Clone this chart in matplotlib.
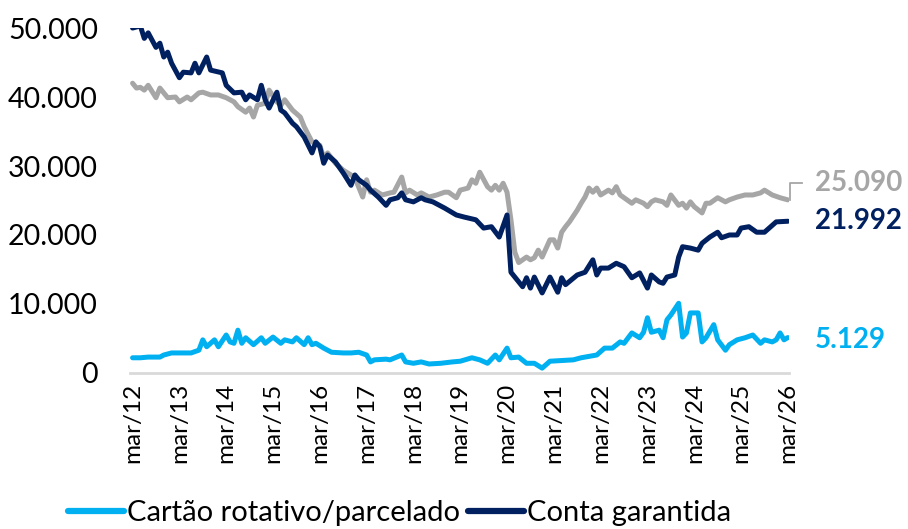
import matplotlib
matplotlib.use("Agg")
import matplotlib.pyplot as plt

# Saldos (R$ milhões); meses contados a partir de mar/12
rotulos_x = ["mar/12", "mar/13", "mar/14", "mar/15", "mar/16", "mar/17", "mar/18",
             "mar/19", "mar/20", "mar/21", "mar/22", "mar/23", "mar/24", "mar/25", "mar/26"]

# Cartão rotativo/parcelado
meses_cartao = [0, 2, 4, 7, 8, 10, 15, 17, 18, 19, 21, 22, 24, 25, 26, 27, 28, 29, 31, 33,
                34, 36, 38, 39, 41, 42, 44, 45, 46, 47, 49, 51, 54, 56, 58, 60, 61, 62, 65, 66,
                69, 70, 72, 74, 76, 79, 82, 84, 87, 89, 91, 93, 94, 96, 97, 99, 101, 103, 105, 107,
                113, 115, 119, 121, 123, 125, 126, 128, 130, 131, 132, 133, 135, 136, 137, 138, 140, 141, 142, 143,
                145, 146, 147, 149, 150, 152, 153, 155, 157, 159, 161, 162, 164, 165, 166, 167, 168]
cartao = [2200, 2200, 2300, 2300, 2600, 2900, 2900, 3300, 4800, 3800, 4800, 3800, 5500, 4500, 4300, 6200, 4300, 5100, 4100, 5100,
          4300, 5200, 4300, 4800, 4500, 5100, 4100, 5100, 4100, 4300, 3600, 3000, 2900, 2900, 3000, 2600, 1600, 1900, 2000, 1900,
          2600, 1600, 1400, 1600, 1300, 1400, 1600, 1700, 2200, 1900, 1400, 2600, 1900, 3600, 2200, 2300, 1400, 1400, 700, 1700,
          1900, 2200, 2600, 3600, 3600, 4500, 4300, 5800, 5100, 5900, 8000, 5900, 6200, 5100, 7700, 8400, 10100, 5200, 5800, 8700,
          8700, 4500, 5100, 7000, 4800, 3300, 4100, 4800, 5100, 5500, 4300, 4800, 4500, 4800, 5800, 4800, 5129]

# Conta garantida
meses_conta = [0, 2, 3, 4, 6, 7, 8, 9, 10, 12, 13, 15, 16, 17, 19, 20, 23, 24, 26, 28,
               29, 30, 32, 33, 34, 35, 37, 38, 39, 41, 42, 44, 46, 47, 48, 49, 50, 52, 54, 56,
               57, 58, 60, 61, 63, 65, 66, 68, 69, 70, 72, 74, 75, 77, 80, 83, 85, 88, 90, 92,
               94, 96, 97, 98, 100, 101, 102, 103, 105, 107, 109, 110, 111, 114, 116, 118, 119, 120, 122, 124,
               126, 128, 130, 132, 133, 135, 136, 137, 139, 140, 141, 143, 145, 146, 148, 150, 151, 153, 155, 156,
               158, 160, 162, 164, 165, 168]
conta = [50000, 50300, 48500, 49300, 47200, 47800, 45800, 46500, 44900, 42800, 43600, 43500, 44900, 43500, 45800, 43900, 43500, 41700, 40600, 40700,
         39600, 40300, 39600, 41700, 39600, 38400, 40700, 38100, 37700, 36200, 35700, 34200, 31900, 33500, 32800, 30400, 31600, 30600, 29000, 27200,
         28700, 28000, 27200, 26500, 25500, 24300, 25100, 25400, 26100, 25100, 24800, 25400, 25100, 24800, 23900, 22900, 22600, 22200, 21000, 21200,
         19700, 22900, 14600, 13900, 12500, 13800, 12300, 13900, 11600, 13900, 11700, 13800, 12800, 14200, 14600, 16400, 14200, 15200, 15200, 15900,
         15400, 13800, 14500, 12300, 14200, 13200, 13000, 13900, 14200, 16800, 18300, 18100, 17800, 18800, 19700, 20400, 19600, 20000, 20000, 21000,
         21200, 20400, 20400, 21400, 21900, 21992]

# Série cinza (sem entrada na legenda)
meses_cinza = [0, 1, 2, 3, 4, 6, 7, 9, 11, 12, 14, 15, 17, 18, 20, 22, 24, 26, 27, 29,
               30, 31, 32, 34, 35, 37, 38, 39, 41, 43, 44, 46, 48, 49, 50, 52, 53, 54, 56, 57,
               59, 60, 61, 62, 64, 66, 67, 69, 70, 71, 73, 74, 76, 78, 80, 81, 83, 84, 86, 87,
               88, 89, 91, 92, 93, 94, 95, 96, 97, 98, 99, 101, 102, 103, 104, 105, 107, 108, 109, 110,
               111, 112, 114, 115, 116, 117, 118, 119, 120, 122, 123, 124, 125, 128, 129, 131, 132, 133, 134, 136,
               137, 138, 140, 141, 142, 143, 144, 146, 147, 148, 150, 152, 153, 155, 157, 159, 161, 162, 164, 166, 168]
cinza = [42000, 41300, 41400, 41000, 41700, 39900, 41300, 39900, 40000, 39300, 40000, 39600, 40600, 40700, 40300, 40300, 39900, 39300, 38600, 37800,
         38400, 37100, 38800, 39100, 41000, 39300, 38800, 39600, 38100, 37100, 35700, 33500, 33000, 31200, 31900, 30400, 29900, 29400, 28700, 28300,
         25500, 28000, 26200, 26500, 25800, 26100, 26200, 28400, 26100, 26500, 25800, 26100, 25500, 25800, 26200, 26200, 25400, 26500, 26800, 28000,
         27500, 29100, 27000, 26500, 27200, 26500, 27500, 26200, 22200, 17500, 16000, 16800, 16400, 16700, 17800, 16800, 19300, 19300, 18100, 20400,
         21200, 21900, 23600, 24600, 25500, 26800, 26200, 26800, 25800, 26500, 26100, 27000, 25800, 24600, 25100, 24600, 24100, 24800, 25100, 24800,
         24300, 25800, 24300, 24600, 23900, 24800, 24100, 23200, 24600, 24600, 25400, 24800, 25100, 25500, 25800, 25800, 26100, 26500, 25800, 25400, 25090]

cor_cartao = "#00B0F0"
cor_conta = "#002060"
cor_cinza = "#A6A6A6"

plt.rcParams["font.family"] = ["Lato", "DejaVu Sans"]

fig = plt.figure(figsize=(9.08, 5.29), dpi=100)
ax = fig.add_axes([0.143, 0.295, 0.726, 0.652])

lw = 3.6
ax.plot(meses_cinza, cinza, color=cor_cinza, lw=lw, solid_joinstyle="round", solid_capstyle="round")
ax.plot(meses_conta, conta, color=cor_conta, lw=lw, solid_joinstyle="round", solid_capstyle="round",
        label="Conta garantida")
ax.plot(meses_cartao, cartao, color=cor_cartao, lw=lw, solid_joinstyle="round", solid_capstyle="round",
        label="Cartão rotativo/parcelado")

ax.set_xlim(-0.7, 168.3)
ax.set_ylim(0, 50000)
ax.set_yticks(range(0, 50001, 10000))
ax.set_yticklabels(["0" if v == 0 else f"{v:,}".replace(",", ".") for v in range(0, 50001, 10000)],
                   fontsize=20.5)
ax.set_xticks(range(0, 169, 12))
ax.set_xticklabels(rotulos_x, rotation=90, fontsize=17.5)
ax.tick_params(axis="both", length=0)
ax.tick_params(axis="x", pad=7)
ax.tick_params(axis="y", pad=23)

for lado in ["top", "right", "left"]:
    ax.spines[lado].set_visible(False)
ax.spines["bottom"].set_color("#D9D9D9")
ax.spines["bottom"].set_linewidth(2)

# linha de chamada do rótulo cinza
ult_x = meses_cinza[-1]
ax.plot([ult_x + 0.5, ult_x + 0.5, ult_x + 3.6], [cinza[-1], 27500, 27500],
        color=cor_cinza, lw=1.3, clip_on=False)

def rotulo(x, v, cor, dy):
    ax.annotate(f"{v:,}".replace(",", "."), (x, v), xytext=(27, dy), textcoords="offset pixels",
                color=cor, fontsize=20, fontweight="bold", va="center", ha="left",
                annotation_clip=False)

rotulo(meses_cinza[-1], cinza[-1], cor_cinza, 17)
rotulo(meses_conta[-1], conta[-1], cor_conta, 0)
rotulo(meses_cartao[-1], cartao[-1], cor_cartao, -2)

h, l = ax.get_legend_handles_labels()
leg = fig.legend(h[::-1], l[::-1], loc="center", bbox_to_anchor=(0.44, 0.03), ncol=2, frameon=False,
                 fontsize=21, handlelength=1.9, handletextpad=0.1, columnspacing=0.3)
for linha in leg.get_lines():
    linha.set_linewidth(4.5)

fig.savefig("out.png", dpi=100)
